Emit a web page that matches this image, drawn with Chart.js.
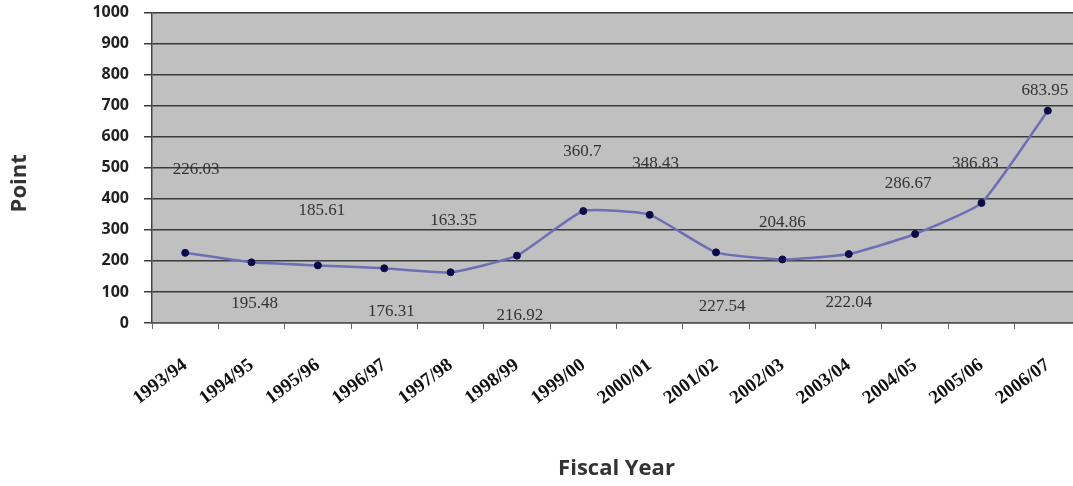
<!DOCTYPE html>
<html>
<head>
<meta charset="utf-8">
<script src="https://cdn.jsdelivr.net/npm/chart.js@4/dist/chart.umd.min.js"></script>
<style>
  html, body { margin: 0; padding: 0; background: #fff; overflow: hidden; }
  #wrap { width: 1073px; height: 486px; overflow: hidden; position: relative; }
  #pointChart { position: absolute; left: 0; top: -12px; }
</style>
</head>
<body>
<div id="wrap">
  <canvas id="pointChart" width="1090" height="498"></canvas>
</div>
<script>
// fiscal years and index points
const years = ['1993/94', '1994/95', '1995/96', '1996/97', '1997/98', '1998/99', '1999/00',
               '2000/01', '2001/02', '2002/03', '2003/04', '2004/05', '2005/06', '2006/07'];
const points = [226.03, 195.48, 185.61, 176.31, 163.35, 216.92, 360.7,
                348.43, 227.54, 204.86, 222.04, 286.67, 386.83, 683.95];
const yTicks = [0, 100, 200, 300, 400, 500, 600, 700, 800, 900, 1000];

// where each value label sits relative to its point (px)
const labelShift = [[11, -83], [3, 41], [4, -55], [7, 43], [3, -52], [3, 60], [-1, -60],
                    [6, -51], [6, 54], [0, -37], [0, 48], [-7, -50], [-6, -39], [-3, -20]];

// gray plot area
const plotBg = {
    id: 'plotBg',
    beforeDraw(chart) {
        const a = chart.chartArea;
        const ctx = chart.ctx;
        ctx.save();
        ctx.fillStyle = '#c0c0c0';
        ctx.fillRect(a.left, a.top, a.right - a.left, a.bottom - a.top);
        ctx.restore();
    }
};

// value labels + y title
const valueLabels = {
    id: 'valueLabels',
    afterDatasetsDraw(chart) {
        const ctx = chart.ctx;
        const meta = chart.getDatasetMeta(0);
        ctx.save();
        ctx.font = '17px "Liberation Serif"';
        ctx.fillStyle = '#333';
        ctx.textAlign = 'center';
        ctx.textBaseline = 'middle';
        meta.data.forEach((pt, i) => {
            const s = labelShift[i];
            ctx.fillText(String(points[i]), pt.x + s[0], pt.y + s[1]);
        });
        ctx.restore();
    },
    afterDraw(chart) {
        const a = chart.chartArea;
        const ctx = chart.ctx;
        ctx.save();
        ctx.font = 'bold 22px "Open Sans"';
        ctx.fillStyle = '#333';
        ctx.textAlign = 'center';
        ctx.textBaseline = 'middle';
        ctx.translate(20, a.top + (a.bottom - a.top) * 0.55);
        ctx.rotate(-Math.PI / 2);
        ctx.fillText('Point', 0, 0);
        ctx.restore();
    }
};

new Chart(document.getElementById('pointChart'), {
    type: 'line',
    data: {
        labels: years,
        datasets: [{
            data: points,
            borderColor: '#6e6eb4',
            borderWidth: 2.5,
            tension: 0.15,
            pointRadius: 3.5,
            pointBackgroundColor: '#0b0b4a',
            pointBorderColor: '#0b0b4a',
            pointBorderWidth: 1,
            fill: false
        }]
    },
    options: {
        responsive: false,
        animation: false,
        layout: { padding: { top: 0, right: 9, left: 0, bottom: 0 } },
        plugins: {
            legend: { display: false },
            tooltip: { enabled: false }
        },
        scales: {
            x: {
                offset: true,
                grid: {
                    offset: true,
                    drawOnChartArea: false,
                    tickLength: 6,
                    color: '#666'
                },
                border: { color: '#555', width: 1.5 },
                ticks: {
                    autoSkip: false,
                    minRotation: 37,
                    maxRotation: 37,
                    padding: 25,
                    color: '#111',
                    font: { family: '"Liberation Serif"', size: 19, weight: 'bold' }
                },
                title: {
                    display: true,
                    text: 'Fiscal Year',
                    color: '#333',
                    font: { family: '"Open Sans"', size: 22, weight: 'bold' }
                },
                afterFit(scale) { scale.height = 163; }
            },
            y: {
                min: 0,
                max: 1000,
                afterBuildTicks(scale) { scale.ticks = yTicks.map(v => ({ value: v })); },
                grid: { color: '#3a3a3a', lineWidth: 1.5, tickLength: 8 },
                border: { color: '#444', width: 1.5 },
                ticks: {
                    padding: 15,
                    color: '#222',
                    font: { family: '"Open Sans"', size: 16, weight: 'bold' },
                    callback: v => String(v)
                },
                afterFit(scale) { scale.width = 152; }
            }
        }
    },
    plugins: [plotBg, valueLabels]
});
</script>
</body>
</html>
